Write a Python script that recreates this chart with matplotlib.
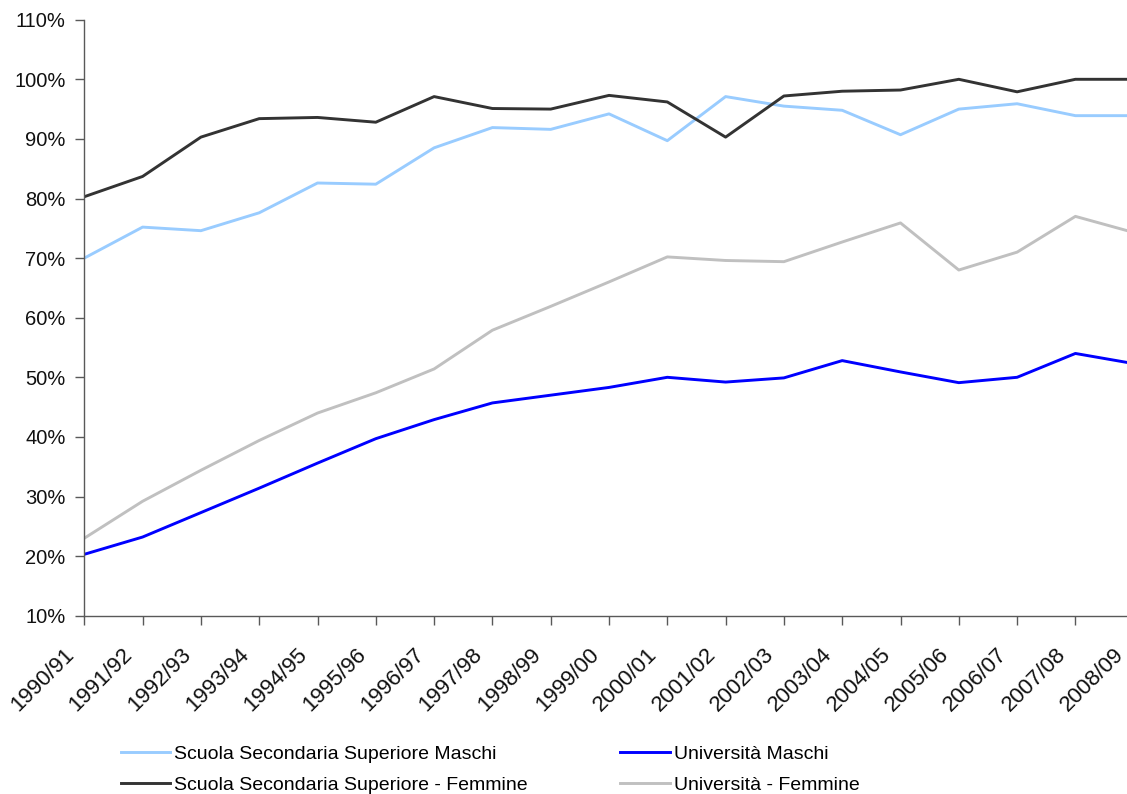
import matplotlib
matplotlib.use("Agg")
import matplotlib.pyplot as plt
from matplotlib.ticker import PercentFormatter, MultipleLocator
from matplotlib.transforms import ScaledTranslation

plt.rcParams['font.family'] = ['Liberation Sans', 'DejaVu Sans']

# ---------------- Dati ----------------
anni = ['1990/91', '1991/92', '1992/93', '1993/94', '1994/95', '1995/96', '1996/97',
        '1997/98', '1998/99', '1999/00', '2000/01', '2001/02', '2002/03', '2003/04',
        '2004/05', '2005/06', '2006/07', '2007/08', '2008/09']

sss_maschi = [70.0, 75.2, 74.6, 77.6, 82.6, 82.4, 88.5, 91.9, 91.6, 94.2,
              89.7, 97.1, 95.5, 94.8, 90.7, 95.0, 95.9, 93.9, 93.9]
sss_femmine = [80.3, 83.7, 90.3, 93.4, 93.6, 92.8, 97.1, 95.1, 95.0, 97.3,
               96.2, 90.3, 97.2, 98.0, 98.2, 100.0, 97.9, 100.0, 100.0]
univ_maschi = [20.3, 23.2, 27.3, 31.4, 35.6, 39.7, 42.9, 45.7, 47.0, 48.3,
               50.0, 49.2, 49.9, 52.8, 50.9, 49.1, 50.0, 54.0, 52.3]
univ_femmine = [23.0, 29.2, 34.4, 39.4, 44.0, 47.4, 51.4, 57.9, 61.9, 66.0,
                70.2, 69.6, 69.4, 72.7, 75.9, 68.0, 71.0, 77.0, 74.3]

# ---------------- Figura ----------------
W, H = 1127, 794
fig = plt.figure(figsize=(W / 100, H / 100), dpi=100)
# l'asse x continua un poco oltre il bordo destro (come nell'originale)
ax = fig.add_axes([84.3 / W, (H - 615.7) / H, 1049.4 / W, 596 / H])

x = range(len(anni))
l1, = ax.plot(x, sss_maschi, color='#99CCFF', lw=2.1, label='Scuola Secondaria Superiore Maschi')
l2, = ax.plot(x, sss_femmine, color='#333333', lw=2.1, label='Scuola Secondaria Superiore - Femmine')
l3, = ax.plot(x, univ_maschi, color='#0000FF', lw=2.1, label='Università Maschi')
l4, = ax.plot(x, univ_femmine, color='#C0C0C0', lw=2.1, label='Università - Femmine')

ax.set_xlim(0, len(anni) - 1)
ax.set_ylim(10, 110)
ax.yaxis.set_major_locator(MultipleLocator(10))
ax.yaxis.set_major_formatter(PercentFormatter(xmax=100, decimals=0))

ax.set_xticks(list(x))
ax.set_xticklabels(anni, rotation=45, ha='right', va='center', rotation_mode='anchor')

for s in ['top', 'right']:
    ax.spines[s].set_visible(False)
for s in ['left', 'bottom']:
    ax.spines[s].set_color('#595959')
    ax.spines[s].set_linewidth(1.0)

ax.tick_params(axis='both', direction='out', length=6.5, width=1.0, color='#595959',
               labelcolor='#111111')
ax.tick_params(axis='y', pad=7, labelsize=14.5)
ax.tick_params(axis='x', pad=19.3, labelsize=16)

# etichette anni spostate un poco a sinistra del tick
shift = ScaledTranslation(-13 / 100, 0, fig.dpi_scale_trans)
for lab in ax.get_xticklabels():
    lab.set_transform(lab.get_transform() + shift)

# ---------------- Legenda ----------------
leg_kw = dict(frameon=False, fontsize=14, handlelength=2.56, handletextpad=0.2,
              borderpad=0, borderaxespad=0, labelspacing=0.69, loc='upper left')
leg1 = fig.legend(handles=[l1, l2], bbox_to_anchor=(120.7 / W, (H - 745.5) / H), **leg_kw)
leg2 = fig.legend(handles=[l3, l4], bbox_to_anchor=(620.0 / W, (H - 745.5) / H), **leg_kw)

fig.savefig('out.png', dpi=100)
